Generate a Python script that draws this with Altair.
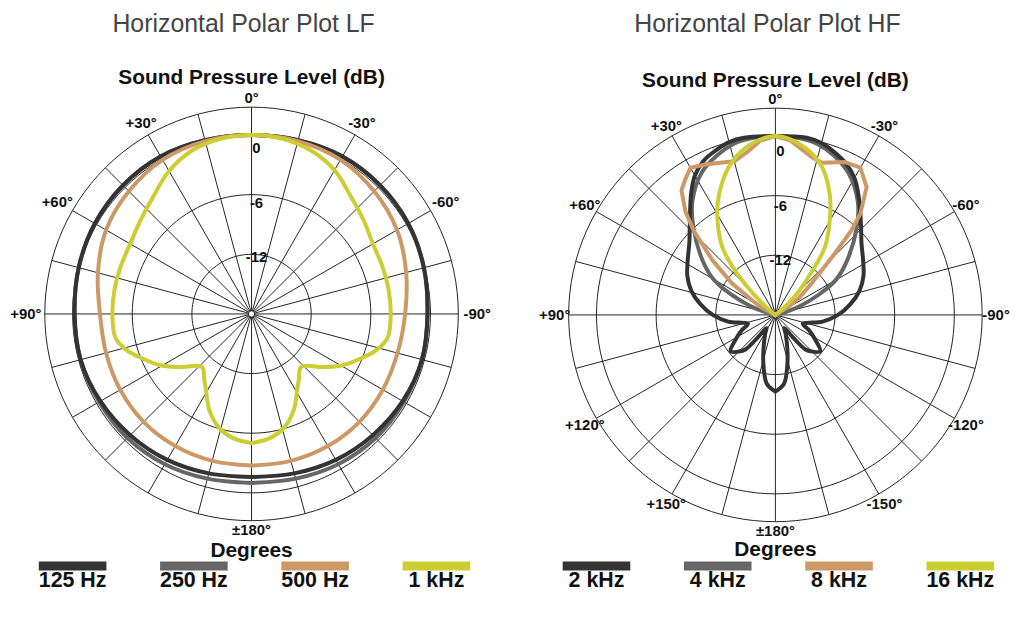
import altair as alt
import pandas as pd

FONT = "Liberation Sans"
GRID = "#222222"

# ---------------- LF panel data (dB, + angles = left side) ----------------
lf_angles = [-180, -165, -150, -135, -120, -105, -90, -75, -60, -45, -30, -15, 0,
             15, 30, 45, 60, 75, 90, 105, 120, 135, 150, 165, 180]
lf_125hz = [-1.6, -1.4, -1.05, -0.75, -0.45, -0.25, -0.3, -0.05, 0.2, 0.3, 0.3, 0.1, 0.0,
            0.1, 0.3, 0.3, 0.2, 0.0, -0.2, -0.2, -0.45, -0.75, -1.05, -1.4, -1.6]
lf_250hz = [-1.0, -0.85, -0.55, -0.35, -0.3, -0.25, -0.3, -0.05, 0.2, 0.3, 0.3, 0.1, 0.0,
            0.1, 0.3, 0.3, 0.2, 0.0, -0.2, -0.2, -0.3, -0.35, -0.55, -0.85, -1.0]
lf_500hz = [-2.75, -2.7, -2.65, -2.65, -2.75, -2.8, -2.55, -1.9, -1.1, -0.55, -0.1, 0.0, 0.0,
            0.0, -0.1, -0.55, -1.1, -2.0, -2.75, -2.85, -2.75, -2.65, -2.65, -2.7, -2.75]
lf_1k_angles = [-180, -171, -164, -156, -150, -144, -137, -126, -119, -111, -106, -100, -90,
                -80, -70, -60, -50, -40, -30, -20, -10, 0,
                10, 20, 30, 40, 50, 60, 70, 80, 90, 100, 106, 111, 119, 126, 137, 144,
                150, 156, 164, 171, 180]
lf_1khz = [-5.0, -5.4, -6.1, -7.5, -8.9, -9.9, -10.7, -8.9, -7.4, -5.9, -4.9, -4.1, -4.0,
           -4.0, -4.0, -3.9, -3.3, -2.5, -1.3, -0.5, -0.1, 0.0,
           -0.1, -0.5, -1.4, -2.6, -3.4, -3.9, -4.0, -4.0, -4.0, -4.1, -4.9, -5.9, -7.4, -8.9,
           -10.7, -9.9, -8.9, -7.5, -6.1, -5.4, -5.0]

# ---------------- HF panel data ----------------
hf_2k_angles = [-180, -173, -167, -161, -151, -146, -142, -139, -135, -129, -121, -115, -108,
                -104, -98, -90, -82, -74, -66, -58, -50, -44, -35, -30, -25, -20, -15, -10, 0,
                10, 15, 20, 25, 30, 35, 44, 50, 58, 66, 74, 82, 90, 98, 104, 108, 115, 121,
                129, 135, 139, 142, 146, 151, 161, 167, 173, 180]
hf_2khz = [-10.3, -11.0, -12.7, -14.3, -15.9, -16.4, -15.2, -13.4, -12.8, -12.2, -13.4, -14.2,
           -15.1, -14.7, -13.2, -11.7, -10.4, -9.2, -8.3, -7.6, -6.7, -5.6, -3.4, -2.1, -1.2,
           -0.6, -0.1, 0.1, 0.0,
           0.1, 0.0, -0.4, -0.9, -1.8, -3.2, -5.6, -6.7, -7.6, -8.3, -9.2, -10.4, -11.7, -13.2,
           -14.7, -15.1, -14.2, -13.4, -12.2, -12.8, -13.4, -15.2, -16.4, -15.9, -14.3, -12.7,
           -11.0, -10.3]
hf_4k_angles = [-180, -150, -120, -90, -80, -75, -70, -65, -60, -53, -43, -36, -27, -20, -14, -10,
                0, 10, 14, 20, 27, 36, 43, 53, 60, 65, 70, 75, 80, 90, 120, 150, 180]
hf_4khz = [-18, -18, -18, -18, -18, -17.0, -15.3, -13.2, -11.0, -9.0, -6.0, -3.9, -1.9, -0.9,
           -0.3, -0.1, 0.0, -0.1, -0.3, -0.9, -1.8, -3.8, -5.9, -8.8, -10.8, -13.0, -15.2,
           -17.0, -18, -18, -18, -18, -18]
hf_8k_angles = [-180, -150, -120, -90, -65, -58, -54, -49, -44, -42, -40, -35.5, -30, -24.5,
                -17, -13, -5, 0, 5, 10, 15, 20, 25, 30, 34, 37, 41, 44, 49, 54, 58, 63, 68,
                90, 120, 150, 180]
hf_8khz = [-18, -18, -18, -18, -18, -16.4, -15.0, -13.2, -9.4, -6.6, -4.7, -2.2, -0.9, -1.1,
           -2.0, -1.7, -0.4, 0.0, -0.4, -1.4, -2.0, -1.7, -1.3, -0.9, -1.7, -2.3, -4.2, -6.1,
           -9.6, -12.6, -15.3, -16.5, -18, -18, -18, -18, -18]
hf_16k_angles = [-180, -150, -120, -90, -55, -52, -48, -45, -41, -36, -28.4, -24, -17.5, -10, 0,
                 10, 17.5, 25, 30, 38, 42, 45, 48, 52, 55, 90, 120, 150, 180]
hf_16khz = [-18, -18, -18, -18, -18, -17.5, -16.2, -14.8, -12.9, -9.5, -6.4, -4.6, -2.4, -0.9,
            0.0, -0.9, -2.4, -4.6, -6.3, -9.3, -11.8, -14.0, -16.0, -17.5, -18, -18, -18, -18,
            -18]

lf_names = ["125 Hz", "250 Hz", "500 Hz", "1 kHz"]
hf_names = ["2 kHz", "4 kHz", "8 kHz", "16 kHz"]
colors = ["#333333", "#666666", "#CC9966", "#CCCC33"]

ring_db = [-12, -6, 0, 2.8]
ring_label_db = [0, -6, -12]
ring_label_txt = ["0", "-6", "-12"]
spoke_angles = list(range(0, 360, 15))
ring_sample_angles = list(range(0, 361, 3))

lf_label_deg = [0, 30, -30, 60, -60, 90, -90, 180]
lf_label_txt = ["0°", "+30°", "-30°", "+60°", "-60°", "+90°", "-90°", "±180°"]
hf_label_deg = [0, 30, -30, 60, -60, 90, -90, 120, -120, 150, -150, 180]
hf_label_txt = ["0°", "+30°", "-30°", "+60°", "-60°", "+90°", "-90°",
                "+120°", "-120°", "+150°", "-150°", "±180°"]


def curve_frame(names, angle_lists, value_lists):
    rows = []
    for n, a_list, v_list in zip(names, angle_lists, value_lists):
        for a, v in zip(a_list, v_list):
            rows.append({"series": n, "angle": a, "db": v})
    return pd.DataFrame(rows)


lf_df = curve_frame(lf_names, [lf_angles, lf_angles, lf_angles, lf_1k_angles],
                    [lf_125hz, lf_250hz, lf_500hz, lf_1khz])
hf_df = curve_frame(hf_names, [hf_2k_angles, hf_4k_angles, hf_8k_angles, hf_16k_angles],
                    [hf_2khz, hf_4khz, hf_8khz, hf_16khz])

ring_df = pd.DataFrame([{"ring": d, "angle": a, "db": d}
                        for d in ring_db for a in ring_sample_angles])
spoke_df = pd.DataFrame({"angle": spoke_angles})

XY = dict(
    r="max(0, datum.db + 18)",
    x="-datum.r * sin(datum.angle * PI / 180)",
    y="datum.r * cos(datum.angle * PI / 180)",
)


def panel(df, names, interps, label_deg, label_txt, label_k, title, xdom, ydom, title_y,
          sub_y, deg_y, bar_y, leg_y, ring_lab_dy):
    W = round((xdom[1] - xdom[0]) * 10)
    H = round((ydom[1] - ydom[0]) * 10)
    xs = alt.Scale(domain=xdom, nice=False, zero=False)
    ys = alt.Scale(domain=ydom, nice=False, zero=False)

    def X(f):
        return alt.X(f, type="quantitative", scale=xs, axis=None)

    def Y(f):
        return alt.Y(f, type="quantitative", scale=ys, axis=None)

    def XD(v):
        return alt.XDatum(v, type="quantitative", scale=xs, axis=None)

    def YD(v):
        return alt.YDatum(v, type="quantitative", scale=ys, axis=None)

    cscale = alt.Color("series:N", scale=alt.Scale(domain=names, range=colors), legend=None)

    rings = alt.Chart(ring_df).transform_calculate(
        r="datum.db + 18", x=XY["x"], y=XY["y"]
    ).mark_line(color=GRID, strokeWidth=1).encode(
        x=X("x"), y=Y("y"), detail="ring:N", order="angle:Q")

    spokes = alt.Chart(spoke_df).transform_calculate(
        x0="0", y0="0",
        x1="-20.8 * sin(datum.angle * PI / 180)",
        y1="20.8 * cos(datum.angle * PI / 180)",
    ).mark_rule(color=GRID, strokeWidth=1).encode(
        x=X("x0"), y=Y("y0"), x2="x1:Q", y2="y1:Q")

    dot = alt.Chart(pd.DataFrame({"x": [0], "y": [0]})).mark_point(
        shape="circle", filled=True, fill="white", opacity=1, size=40,
        stroke=GRID, strokeWidth=1).encode(x=X("x"), y=Y("y"))

    layers = [rings, spokes, dot]
    for idx in [1, 0, 2, 3]:
        n = names[idx]
        layers.append(
            alt.Chart(df).transform_filter(alt.datum.series == n).transform_calculate(
                **XY).mark_line(strokeWidth=4, strokeJoin="round", strokeCap="round",
                                interpolate=interps[idx]).encode(
                x=X("x"), y=Y("y"), order="angle:Q", color=cscale))

    labels = alt.Chart(pd.DataFrame({"angle": label_deg, "txt": label_txt})).transform_calculate(
        r="21.7 + %s * abs(sin(datum.angle * PI / 180))" % label_k, x=XY["x"], y=XY["y"]
    ).mark_text(font=FONT, fontSize=15, fontWeight="bold", color="#111111",
                align="center", baseline="middle").encode(
        x=X("x"), y=Y("y"), text="txt:N")

    ring_labels = alt.Chart(pd.DataFrame({"db": ring_label_db, "txt": ring_label_txt})
                            ).transform_calculate(
        x="0.5", y="(datum.db + 18) * 0.917 + %s" % ring_lab_dy
    ).mark_text(font=FONT, fontSize=15, fontWeight="bold", color="#111111",
                align="center", baseline="middle").encode(
        x=X("x"), y=Y("y"), text="txt:N")

    one = pd.DataFrame({"k": [0]})
    main_title = alt.Chart(one).mark_text(
        text=title, font=FONT, fontSize=25, color="#444444", align="center",
        baseline="middle").encode(x=XD(-0.8), y=YD(title_y))
    sub_title = alt.Chart(one).mark_text(
        text="Sound Pressure Level (dB)", font=FONT, fontSize=21, fontWeight="bold",
        color="#111111", align="center", baseline="middle").encode(x=XD(0), y=YD(sub_y))
    degrees = alt.Chart(one).mark_text(
        text="Degrees", font=FONT, fontSize=21, fontWeight="bold", color="#111111",
        align="center", baseline="middle").encode(x=XD(0), y=YD(deg_y))

    leg_df = pd.DataFrame({"series": names, "i": list(range(len(names)))})
    leg_bars = alt.Chart(leg_df).transform_calculate(
        cx="-18.0 + 12.2 * datum.i", xa="datum.cx - 3.4", xb="datum.cx + 3.4"
    ).mark_rule(strokeWidth=9, strokeCap="butt").encode(
        x=X("xa"), x2="xb:Q", y=YD(bar_y), color=cscale)
    leg_text = alt.Chart(leg_df).transform_calculate(
        cx="-18.0 + 12.2 * datum.i"
    ).mark_text(font=FONT, fontSize=21.5, fontWeight="bold", color="#111111",
                align="center", baseline="middle").encode(
        x=X("cx"), y=YD(leg_y), text="series:N")

    layers += [labels, ring_labels, main_title, sub_title, degrees, leg_bars, leg_text]
    return alt.layer(*layers).properties(width=W, height=H)


left = panel(lf_df, lf_names, ["catmull-rom"] * 4, lf_label_deg, lf_label_txt, 1.0,
             "Horizontal Polar Plot LF",
             [-24.5, 24.5], [-28.5, 30.6], 29.2, 23.7, -23.9, -25.35, -26.9, 0.2)
right = panel(hf_df, hf_names, ["catmull-rom", "catmull-rom", "linear", "catmull-rom"],
              hf_label_deg, hf_label_txt, 0.5, "Horizontal Polar Plot HF",
              [-28.2, 23.6], [-28.4, 30.7], 29.3, 23.5, -23.7, -25.25, -26.8, 0.0)

chart = alt.hconcat(left, right, spacing=0).properties(padding=0).configure_view(strokeWidth=0)

chart.save("out.html", embed_options={"renderer": "svg", "actions": False})
